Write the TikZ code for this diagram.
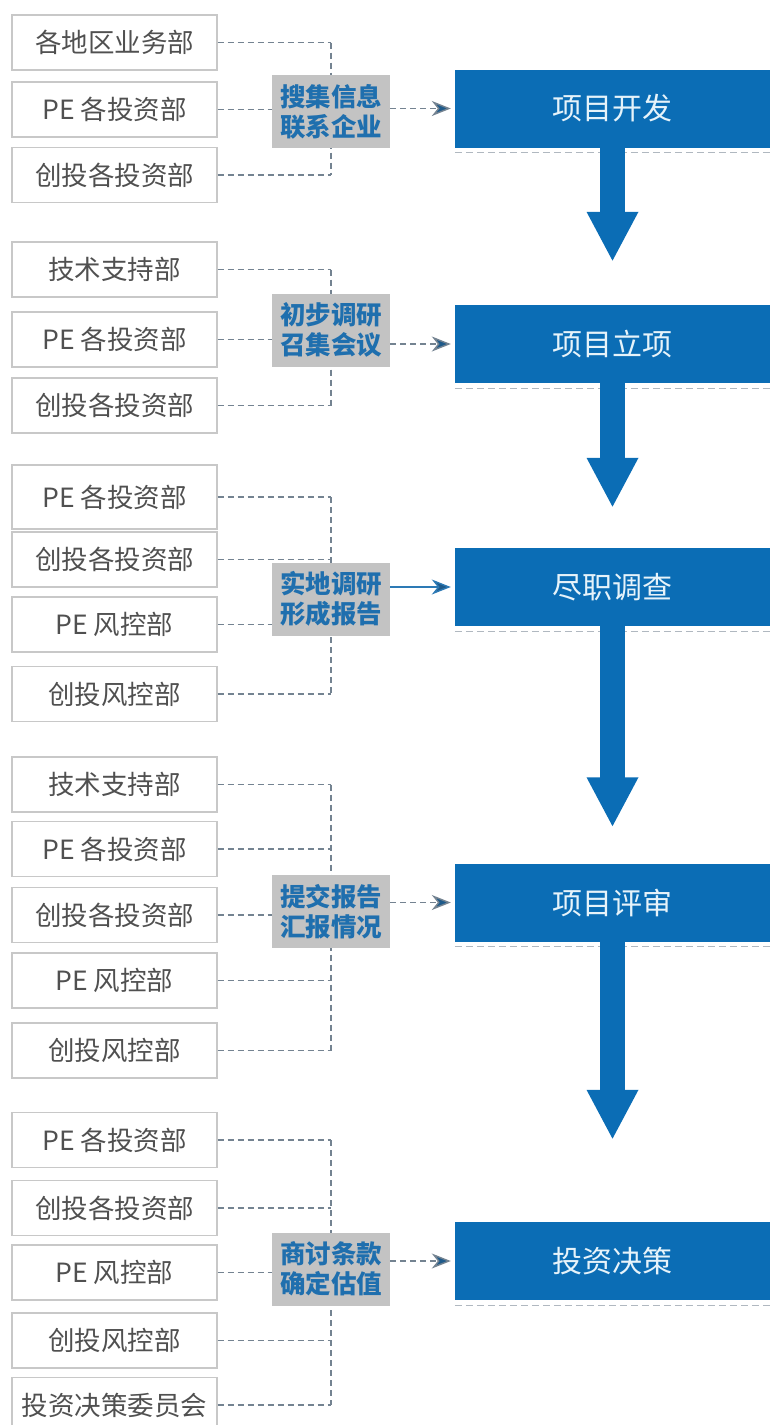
\documentclass[tikz,border=0pt]{standalone}
\usepackage{fontspec}
\setmainfont{Noto Sans CJK SC}
\usepackage{tikz}
\usetikzlibrary{positioning,arrows.meta}

\definecolor{stageblue}{HTML}{0B6DB5}
\definecolor{stagetext}{HTML}{E6F3FA}
\definecolor{taskgray}{HTML}{C3C3C3}
\definecolor{taskblue}{HTML}{1F6FAE}
\definecolor{linkgray}{HTML}{748391}
\definecolor{feedblue}{HTML}{2D7AB5}
\definecolor{tipblue}{HTML}{1E5A8A}
\definecolor{deptline}{HTML}{C8C8C8}
\definecolor{depttext}{HTML}{505050}
\definecolor{rulegray}{HTML}{B0B8C0}

\begin{document}
\begin{tikzpicture}[x=1pt, y=-1pt,
  dept/.style={draw=deptline, line width=1.2pt, text=depttext, minimum width=205pt,
    minimum height=55pt, inner sep=0pt, font=\fontsize{26.5}{26.5}\selectfont},
  task/.style={fill=taskgray, text=taskblue, align=center, minimum width=118pt,
    minimum height=73pt, inner sep=2pt, font=\bfseries\fontsize{25.5}{30}\selectfont},
  stage/.style={fill=stageblue, text=stagetext, minimum width=315pt, minimum height=78pt,
    inner sep=0pt, font=\fontsize{30}{30}\selectfont},
  link/.style={draw=linkgray, line width=1.4pt, dash pattern=on 6pt off 4pt},
  feed/.style={link, -{Stealth[length=19pt,width=15pt,inset=6pt,fill=tipblue]}, shorten >=4pt},
  down/.style={draw=stageblue, line width=25pt, -{Triangle[width=48pt,length=50pt]}},
  rule/.style={draw=rulegray, line width=1.2pt, dash pattern=on 7pt off 4pt}]
\useasboundingbox (0,0) rectangle (770,1425);

% departments
\node [dept] (d_11) at (114.5,42.5) {各地区业务部};
\node [dept] (d_12) at (114.5,109.5) {PE 各投资部};
\node [dept] (d_13) at (114.5,175) {创投各投资部};

\node [dept] (d_21) at (114.5,269.5) {技术支持部};
\node [dept] (d_22) at (114.5,339.5) {PE 各投资部};
\node [dept] (d_23) at (114.5,405.5) {创投各投资部};

\node [dept, minimum height=64pt] (d_31) at (114.5,497) {PE 各投资部};
\node [dept] (d_32) at (114.5,559.5) {创投各投资部};
\node [dept] (d_33) at (114.5,624.5) {PE 风控部};
\node [dept] (d_34) at (114.5,694) {创投风控部};

\node [dept] (d_41) at (114.5,784.5) {技术支持部};
\node [dept] (d_42) at (114.5,849) {PE 各投资部};
\node [dept] (d_43) at (114.5,915) {创投各投资部};
\node [dept] (d_44) at (114.5,980.5) {PE 风控部};
\node [dept] (d_45) at (114.5,1050.5) {创投风控部};

\node [dept] (d_51) at (114.5,1140) {PE 各投资部};
\node [dept] (d_52) at (114.5,1208) {创投各投资部};
\node [dept] (d_53) at (114.5,1272.5) {PE 风控部};
\node [dept] (d_54) at (114.5,1340.5) {创投风控部};
\node [dept] (d_55) at (114.5,1405) {投资决策委员会};

% stages
\node [stage] (s_1) at (612.5,108.5) {项目开发};
\node [stage] (s_2) at (612.5,344) {项目立项};
\node [stage] (s_3) at (612.5,587) {尽职调查};
\node [stage] (s_4) at (612.5,902.5) {项目评审};
\node [stage] (s_5) at (612.5,1261) {投资决策};

% dashed links to the trunk
\coordinate (trunk) at (331,0);
\foreach \g/\n in {1/3,2/3,3/4,4/5,5/5} {
  \foreach \i in {1,...,\n}
    \draw [link] (d_\g\i.east) -- (d_\g\i.east -| trunk);
  \draw [link] (d_\g1.east -| trunk) -- (d_\g\n.east -| trunk);
}

% tasks
\node [task] (t_1) at (331,111.5) {搜集信息\\联系企业};
\node [task] (t_2) at (331,330) {初步调研\\召集会议};
\node [task] (t_3) at (331,599) {实地调研\\形成报告};
\node [task] (t_4) at (331,911.5) {提交报告\\汇报情况};
\node [task] (t_5) at (331,1269) {商讨条款\\确定估值};

\draw [feed] (t_1.east |- s_1.west) -- (s_1.west);
\draw [feed] (t_2.east |- s_2.west) -- (s_2.west);
\draw [feed, solid, draw=feedblue] (t_3.east |- s_3.west) -- (s_3.west);
\draw [feed] (t_4.east |- s_4.west) -- (s_4.west);
\draw [feed] (t_5.east |- s_5.west) -- (s_5.west);

% rules under the stages
\foreach \s in {1,...,5}
  \draw [rule] ([yshift=-5pt]s_\s.south west) -- ([yshift=-5pt]s_\s.south east);

% flow between stages
\draw [down] (s_1.south) -- ([yshift=43pt]s_2.north);
\draw [down] (s_2.south) -- ([yshift=40pt]s_3.north);
\draw [down] (s_3.south) -- ([yshift=36pt]s_4.north);
\draw [down] (s_4.south) -- ([yshift=82pt]s_5.north);
\end{tikzpicture}
\end{document}
